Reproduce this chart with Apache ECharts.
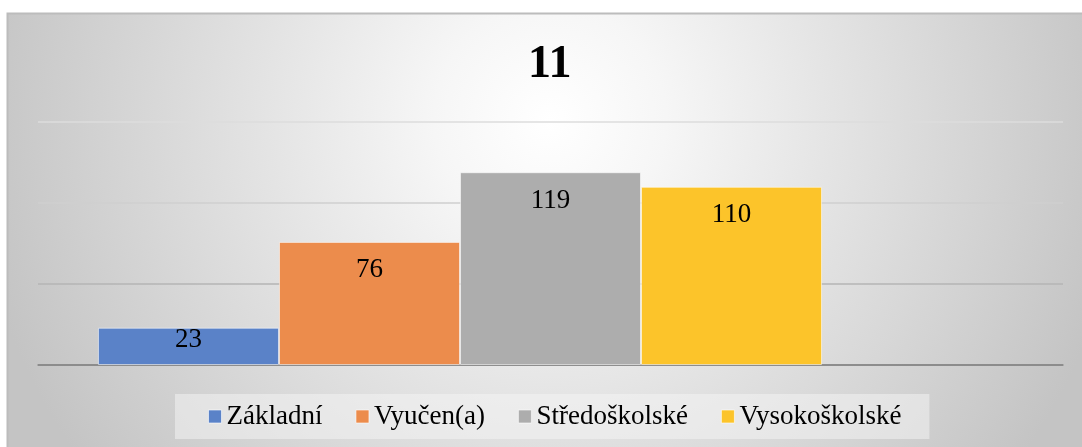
<!DOCTYPE html>
<html>
<head>
<meta charset="utf-8">
<script src="https://cdn.jsdelivr.net/npm/echarts@6/dist/echarts.min.js"></script>
<style>
html,body{margin:0;padding:0;background:#fff;}
#chart{width:1082px;height:447px;}
</style>
</head>
<body>
<div id="chart"></div>
<script>
const titleText = '11';
const seriesNames = ['Základní', 'Vyučen(a)', 'Středoškolské', 'Vysokoškolské'];
const seriesValues = [23, 76, 119, 110];
const seriesColors = ['#5a82c8', '#ec8c4c', '#adadad', '#fcc42a'];
const yTicks = [0, 50, 100, 150];

const FONT = '"Liberation Serif", "Times New Roman", serif';

const chart = echarts.init(document.getElementById('chart'), null, {renderer: 'canvas'});

const series = seriesNames.map((name, i) => ({
  name: name,
  type: 'bar',
  data: [seriesValues[i]],
  barGap: '0%',
  barCategoryGap: '11.7%',
  itemStyle: {color: seriesColors[i], borderColor: 'rgba(255,255,255,0.55)', borderWidth: 1},
  label: {
    show: true, position: 'insideTop',
    // short bars keep the label near the top edge, tall bars push it further inside
    distance: seriesValues[i] < 40 ? -1 : 15,
    fontFamily: FONT, fontSize: 27, color: '#000'
  },
  emphasis: {disabled: true}
}));
// empty fifth slot, as in the original chart layout
series.push({name: '', type: 'bar', data: ['-'], barGap: '0%', barCategoryGap: '11.7%'});

chart.setOption({
  animation: false,
  backgroundColor: '#ffffff',
  graphic: [{
    type: 'rect', z: -10, silent: true,
    shape: {x: 7.5, y: 13.5, width: 1080, height: 440},
    style: {
      fill: {
        type: 'radial', x: 550, y: 120, r: 580, global: true,
        colorStops: [
          {offset: 0, color: '#ffffff'},
          {offset: 0.2, color: '#f6f6f6'},
          {offset: 1, color: '#c4c4c4'}
        ]
      },
      stroke: '#bcbcbc', lineWidth: 2
    }
  }],
  title: {
    text: titleText, left: 523, top: 37,
    textStyle: {fontFamily: FONT, fontSize: 46, fontWeight: 'bold', color: '#000'}
  },
  legend: {
    data: seriesNames,
    left: 175, top: 394,
    padding: [9, 28, 9, 33],
    backgroundColor: 'rgba(245,245,245,0.5)',
    itemGap: 33, itemWidth: 13, itemHeight: 13, icon: 'rect',
    itemStyle: {borderColor: 'rgba(255,255,255,0.6)', borderWidth: 1},
    textStyle: {fontFamily: FONT, fontSize: 27, color: '#000', lineHeight: 27}
  },
  grid: {left: 38, right: 19, top: 122, bottom: 82, containLabel: false},
  xAxis: {
    type: 'category', data: [''],
    axisLine: {show: true, lineStyle: {color: '#888888', width: 1.5}},
    axisTick: {show: false}, axisLabel: {show: false}
  },
  yAxis: {
    type: 'value', min: yTicks[0], max: yTicks[yTicks.length - 1], interval: yTicks[1] - yTicks[0],
    axisLine: {show: false}, axisTick: {show: false}, axisLabel: {show: false},
    splitLine: {lineStyle: {color: ['#888888', '#b4b4b4', '#cfcfcf', '#dcdcdc'], width: 1.5}}
  },
  series: series
});
</script>
</body>
</html>
